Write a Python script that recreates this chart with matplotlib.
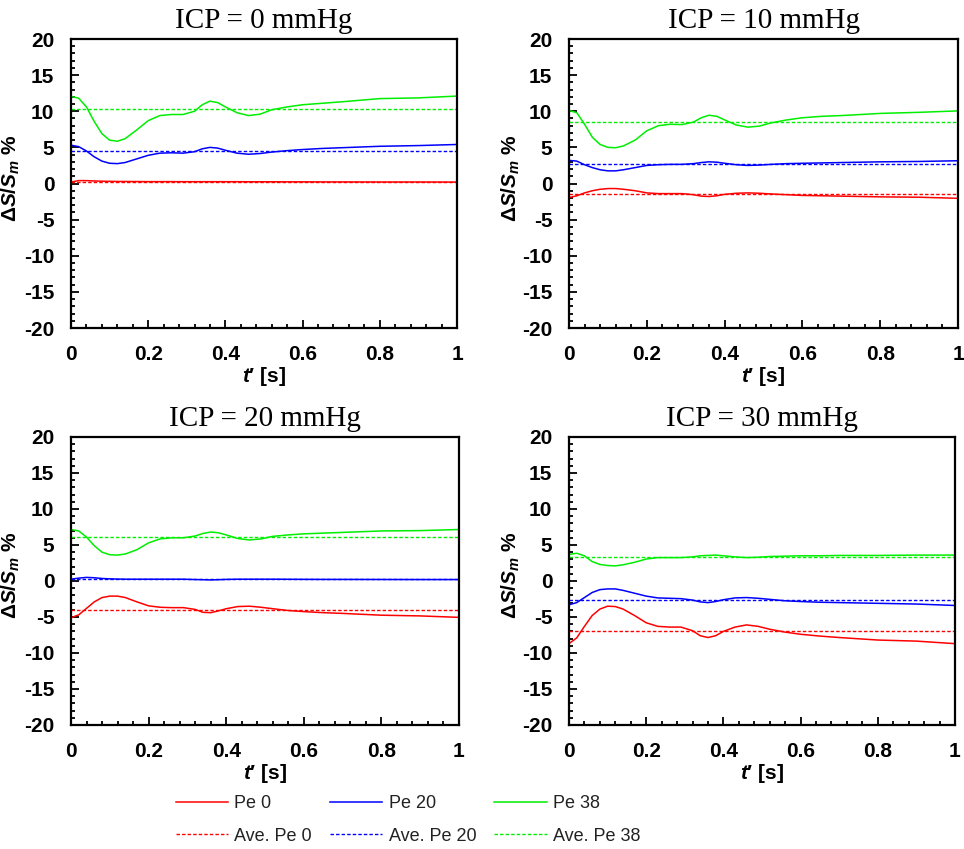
import matplotlib.pyplot as plt
from matplotlib.ticker import MultipleLocator, FixedLocator

plt.rcParams['font.family'] = ['Liberation Sans', 'DejaVu Sans']
plt.rcParams['axes.unicode_minus'] = False
plt.rcParams['mathtext.fontset'] = 'custom'
plt.rcParams['mathtext.rm'] = 'Liberation Sans:bold'
plt.rcParams['mathtext.bf'] = 'Liberation Sans:bold'
plt.rcParams['mathtext.it'] = 'Liberation Sans:italic:bold'

# time points (s)
t = [0, 0.02, 0.04, 0.06, 0.08, 0.10, 0.12, 0.14, 0.17, 0.20, 0.23, 0.26, 0.29, 0.32,
     0.34, 0.36, 0.38, 0.40, 0.43, 0.46, 0.49, 0.52, 0.56, 0.60, 0.65, 0.70, 0.80, 0.90, 1.00]

titles = ['ICP = 0 mmHg', 'ICP = 10 mmHg', 'ICP = 20 mmHg', 'ICP = 30 mmHg']
series_names = ['Pe 0', 'Pe 20', 'Pe 38']
ave_names = ['Ave. Pe 0', 'Ave. Pe 20', 'Ave. Pe 38']

# ICP = 0
icp0_pe0 = [0.2, 0.4, 0.4, 0.35, 0.32, 0.3, 0.28, 0.28, 0.27, 0.26, 0.26, 0.26, 0.25, 0.25,
            0.25, 0.25, 0.25, 0.25, 0.25, 0.24, 0.24, 0.24, 0.23, 0.23, 0.22, 0.22, 0.21, 0.21, 0.2]
icp0_pe20 = [5.3, 5.1, 4.5, 3.7, 3.1, 2.8, 2.75, 2.9, 3.4, 3.9, 4.2, 4.25, 4.2, 4.4,
             4.8, 5.0, 4.9, 4.6, 4.2, 4.05, 4.15, 4.35, 4.55, 4.7, 4.85, 4.95, 5.15, 5.25, 5.4]
icp0_pe38 = [12.05, 11.8, 10.6, 8.6, 6.9, 6.0, 5.85, 6.2, 7.4, 8.7, 9.4, 9.55, 9.55, 10.0,
             10.9, 11.4, 11.2, 10.6, 9.8, 9.4, 9.6, 10.2, 10.6, 10.9, 11.1, 11.3, 11.75, 11.85, 12.1]
icp0_ave = [0.25, 4.55, 10.3]

# ICP = 10
icp10_pe0 = [-1.95, -1.7, -1.3, -1.0, -0.8, -0.7, -0.7, -0.8, -1.0, -1.3, -1.4, -1.4, -1.4, -1.55,
             -1.75, -1.8, -1.7, -1.5, -1.35, -1.3, -1.35, -1.45, -1.55, -1.65, -1.7, -1.75, -1.85, -1.9, -2.05]
icp10_pe20 = [3.2, 3.1, 2.6, 2.2, 1.9, 1.75, 1.75, 1.9, 2.2, 2.5, 2.6, 2.65, 2.65, 2.75,
              2.9, 3.0, 2.95, 2.8, 2.6, 2.5, 2.55, 2.65, 2.75, 2.8, 2.85, 2.9, 3.0, 3.05, 3.15]
icp10_pe38 = [10.1, 9.8, 8.2, 6.4, 5.4, 5.0, 4.95, 5.2, 6.0, 7.3, 8.0, 8.2, 8.15, 8.5,
              9.1, 9.45, 9.3, 8.8, 8.1, 7.8, 7.95, 8.4, 8.8, 9.1, 9.3, 9.4, 9.7, 9.85, 10.05]
icp10_ave = [-1.5, 2.75, 8.55]

# ICP = 20
icp20_pe0 = [-5.1, -4.7, -3.8, -2.9, -2.3, -2.1, -2.1, -2.3, -2.9, -3.45, -3.65, -3.7, -3.7, -3.95,
             -4.35, -4.4, -4.15, -3.85, -3.55, -3.5, -3.65, -3.85, -4.1, -4.25, -4.4, -4.5, -4.75, -4.85, -5.05]
icp20_pe20 = [0.25, 0.4, 0.5, 0.45, 0.35, 0.3, 0.27, 0.25, 0.25, 0.25, 0.25, 0.25, 0.25, 0.2,
              0.18, 0.15, 0.18, 0.22, 0.25, 0.25, 0.25, 0.25, 0.24, 0.23, 0.22, 0.22, 0.21, 0.2, 0.2]
icp20_pe38 = [7.15, 6.95, 6.1, 4.9, 4.0, 3.65, 3.6, 3.75, 4.35, 5.3, 5.85, 6.0, 6.0, 6.25,
              6.6, 6.8, 6.7, 6.4, 5.9, 5.7, 5.85, 6.2, 6.4, 6.55, 6.65, 6.75, 6.95, 7.0, 7.15]
icp20_ave = [-4.05, 0.25, 6.15]

# ICP = 30
icp30_pe0 = [-8.7, -7.9, -6.3, -4.8, -3.9, -3.5, -3.55, -3.9, -4.8, -5.8, -6.3, -6.4, -6.4, -6.9,
             -7.6, -7.85, -7.6, -7.0, -6.4, -6.1, -6.3, -6.7, -7.1, -7.4, -7.65, -7.85, -8.2, -8.35, -8.7]
icp30_pe20 = [-3.3, -3.0, -2.3, -1.6, -1.2, -1.1, -1.1, -1.3, -1.7, -2.1, -2.35, -2.4, -2.45, -2.65,
              -2.9, -3.0, -2.85, -2.6, -2.35, -2.3, -2.4, -2.55, -2.75, -2.85, -2.95, -3.0, -3.1, -3.2, -3.4]
icp30_pe38 = [3.7, 3.85, 3.5, 2.7, 2.3, 2.15, 2.1, 2.25, 2.6, 3.05, 3.25, 3.25, 3.25, 3.35,
              3.5, 3.55, 3.6, 3.5, 3.35, 3.25, 3.3, 3.4, 3.45, 3.5, 3.5, 3.55, 3.55, 3.6, 3.6]
icp30_ave = [-7.0, -2.7, 3.3]

panels = [
    ([icp0_pe0, icp0_pe20, icp0_pe38], icp0_ave),
    ([icp10_pe0, icp10_pe20, icp10_pe38], icp10_ave),
    ([icp20_pe0, icp20_pe20, icp20_pe38], icp20_ave),
    ([icp30_pe0, icp30_pe20, icp30_pe38], icp30_ave),
]

xticks = [0, 0.2, 0.4, 0.6, 0.8, 1]
xtick_labels = ['0', '0.2', '0.4', '0.6', '0.8', '1']
yticks = [20, 15, 10, 5, 0, -5, -10, -15, -20]

colors = ['#ff0000', '#0000ff', '#00ee00']

W, H = 964, 849
fig = plt.figure(figsize=(W / 100, H / 100), dpi=100)

# axes boxes in pixels: left, right, top, bottom
boxes = [(71, 457, 39, 328), (569, 958, 39, 328), (71, 459, 437, 725), (569, 955, 437, 725)]
ylabel_x = [22, 522, 22, 522]

handles = []
for i, (box, (curves, aves)) in enumerate(zip(boxes, panels)):
    l, r, tp, b = box
    ax = fig.add_axes([l / W, 1 - b / H, (r - l) / W, (b - tp) / H])
    for k, (y, a) in enumerate(zip(curves, aves)):
        h1, = ax.plot(t, y, color=colors[k], lw=1.1, label=series_names[k])
        h2, = ax.plot([0, 1], [a, a], color=colors[k], lw=1.0, ls=(0, (2.5, 1.5)), label=ave_names[k])
        if i == 0:
            handles.append((h1, h2))
    ax.set_xlim(0, 1)
    ax.set_ylim(-20, 20)
    ax.xaxis.set_major_locator(FixedLocator(xticks))
    ax.set_xticklabels(xtick_labels)
    ax.xaxis.set_minor_locator(MultipleLocator(0.04))
    ax.set_yticks(yticks)
    ax.yaxis.set_minor_locator(MultipleLocator(1))
    ax.tick_params(which='both', direction='in', width=1.3, labelsize=15)
    ax.tick_params(which='major', length=6, pad=12)
    ax.tick_params(which='minor', length=3)
    for lab in ax.get_xticklabels() + ax.get_yticklabels():
        lab.set_fontweight('bold')
    for s in ax.spines.values():
        s.set_linewidth(1.6)
    ax.set_title(titles[i], family='Liberation Serif', fontsize=21, pad=8)
    ax.set_xlabel("$\\mathit{t}$\u2032 [s]", fontsize=15, fontweight='bold', labelpad=1)
    ax.set_ylabel(r'$\Delta S/S_{\mathit{m}}$ %', fontsize=15, fontweight='bold')
    ax.yaxis.set_label_coords((ylabel_x[i] - l) / (r - l), 0.52)

order = [handles[0][0], handles[0][1], handles[1][0], handles[1][1], handles[2][0], handles[2][1]]
fig.legend(handles=order, labels=[h.get_label() for h in order], ncol=3, loc='center',
           bbox_to_anchor=(408 / W, 1 - 820 / H), frameon=False, fontsize=13,
           handlelength=2.9, handletextpad=0.35, columnspacing=1.0, labelspacing=0.85,
           labelcolor='#222222')

fig.savefig('out.png', dpi=100)
